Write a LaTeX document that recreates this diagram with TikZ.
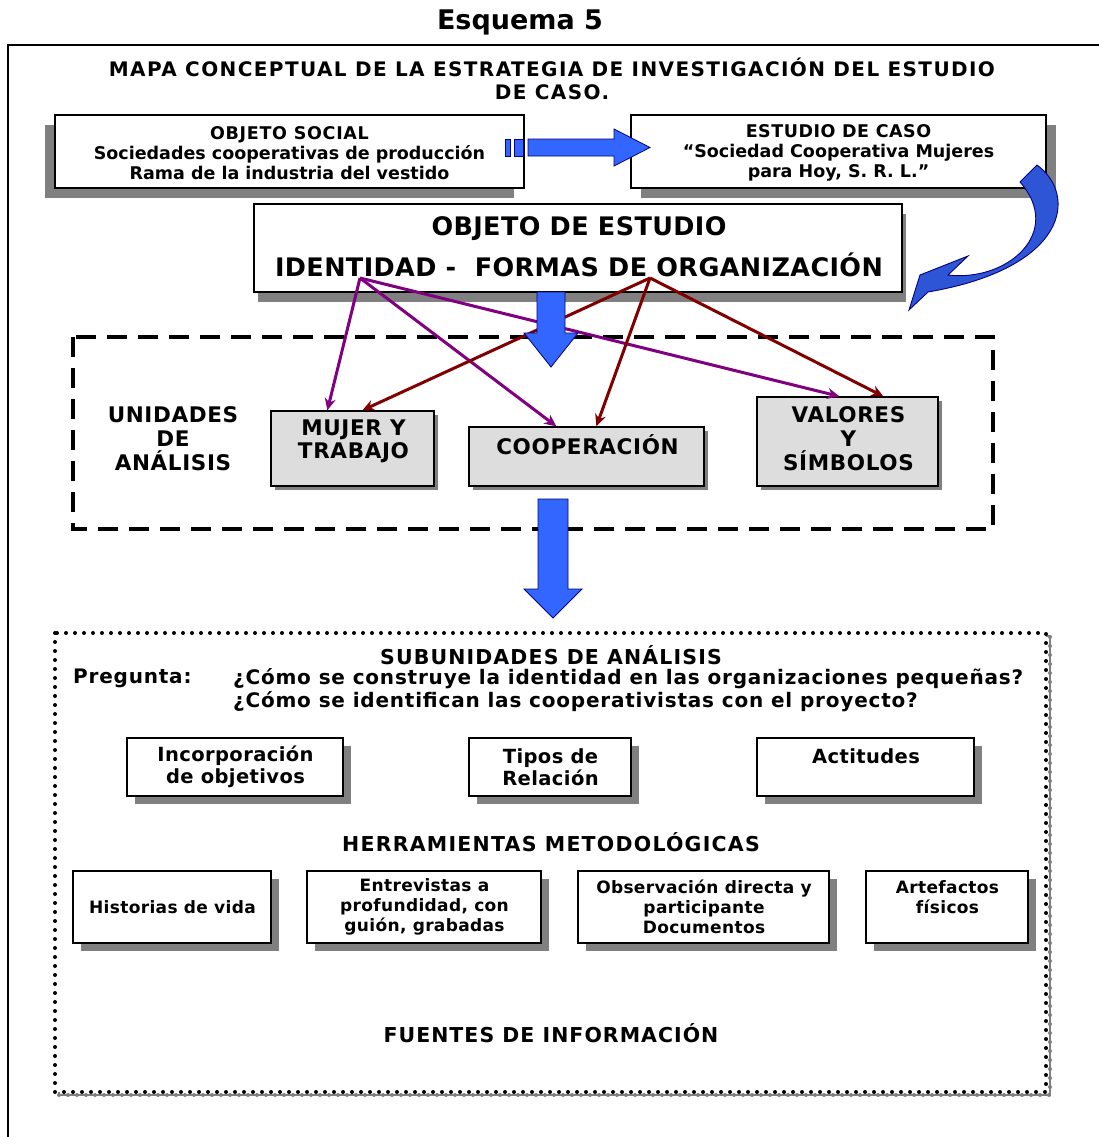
\documentclass[tikz,border=0pt]{standalone}
\usepackage{fontspec}
\setmainfont{DejaVu Sans}
\usetikzlibrary{calc,arrows.meta,shadows}

\definecolor{arrowblue}{HTML}{3366FF}
\definecolor{arrownavy}{HTML}{000080}
\definecolor{curveblue}{HTML}{2E55D6}
\definecolor{shadegrey}{HTML}{808080}
\definecolor{unitgrey}{HTML}{DDDDDD}
\definecolor{linkpurple}{HTML}{800080}
\definecolor{linkred}{HTML}{800000}

% size, baseline skip, letter spacing
\newcommand{\fsz}[3]{\fontsize{#1}{#2}\selectfont\bfseries\addfontfeature{LetterSpace=#3}}

\tikzset{
  box/.style={draw=black, line width=1.3pt, fill=white, inner sep=0pt},
  unitbox/.style={box, fill=unitgrey,
    drop shadow={shadow xshift=4pt, shadow yshift=-4pt, fill=shadegrey, opacity=1}},
  subbox/.style={box,
    drop shadow={shadow xshift=8pt, shadow yshift=-8pt, fill=shadegrey, opacity=1}},
  txt/.style={inner sep=0pt, align=center},
  blockarrow/.style={fill=arrowblue, draw=arrownavy, line width=0.8pt},
  purplelink/.style={draw=linkpurple, line width=3pt, -{Stealth[length=12pt,width=11pt]}},
  redlink/.style={draw=linkred, line width=3pt, -{Stealth[length=12pt,width=11pt]}},
  dotframe/.style={line width=4pt, line cap=round, dash pattern=on 0pt off 9pt},
}

\begin{document}
\begin{tikzpicture}[x=1pt, y=-1pt]
\useasboundingbox (0,0) rectangle (1099,1137);

% title and outer frame
\node[txt, font=\fsz{27}{32}{0}] (title) at (520,22) {Esquema 5};
\draw[line width=2pt] (1099,45) -- (8,45) -- (8,1137);

\node[txt, font=\fsz{20}{23}{7}] (heading) at (552,79)
  {MAPA CONCEPTUAL DE LA ESTRATEGIA DE INVESTIGACIÓN DEL ESTUDIO\\DE CASO.};

% upper boxes
\node[box, minimum width=469pt, minimum height=73pt,
  drop shadow={shadow xshift=-10pt, shadow yshift=-10pt, fill=shadegrey, opacity=1}]
  (osocial) at (289.5,151.5) {};
\node[txt, font=\fsz{17.5}{20}{0}] (osocialt) at (289.5,153)
  {{\addfontfeature{LetterSpace=4}OBJETO SOCIAL}\\Sociedades cooperativas de producción\\Rama de la industria del vestido};

\node[box, minimum width=415pt, minimum height=73pt,
  drop shadow={shadow xshift=10pt, shadow yshift=-10pt, fill=shadegrey, opacity=1}]
  (ecaso) at (838.5,151.5) {};
\node[txt, font=\fsz{17.5}{20}{0}] (ecasot) at (838.5,153)
  {{\addfontfeature{LetterSpace=3}ESTUDIO DE CASO}\\“Sociedad Cooperativa Mujeres\\para Hoy, S. R. L.”};

\node[box, minimum width=648pt, minimum height=88pt,
  drop shadow={shadow xshift=4pt, shadow yshift=-10pt, fill=shadegrey, opacity=1}]
  (oestudio) at (578,248) {};
\node[txt, font=\fsz{25.5}{41}{1.5}] (oestudiot) at (579,247)
  {OBJETO DE ESTUDIO\\IDENTIDAD -\ \ FORMAS DE ORGANIZACIÓN};

% horizontal block arrow
\path[blockarrow] (505,139) rectangle (510,156);
\path[blockarrow] (514,139) rectangle (523,156);
\path[blockarrow] (528,139) -- (614,139) -- (614,129) -- (650,147.5)
  -- (614,166) -- (614,156) -- (528,156) -- cycle;

% curved block arrow
\path[fill=curveblue, draw=arrownavy, line width=0.9pt]
  (1037,165) .. controls (1078,195) and (1068,268) .. (928,292)
  -- (909,310) -- (920,275) -- (968,256) -- (948,275)
  .. controls (1008,282) and (1064,232) .. (1020,182) -- cycle;

% units of analysis
\draw[line width=4pt, dash pattern=on 20pt off 11pt] (73,337) rectangle (993,529);

\node[txt, font=\fsz{21.5}{24}{3}] (unidades) at (173,439) {UNIDADES\\DE\\ANÁLISIS};

\node[unitbox, minimum width=163pt, minimum height=75pt] (mujer) at (352.5,448.5) {};
\node[txt, font=\fsz{21.5}{23}{3}] (mujert) at (353.5,441.5) {MUJER Y\\TRABAJO};

\node[unitbox, minimum width=235pt, minimum height=59pt] (coop) at (586.5,456.5) {};
\node[txt, font=\fsz{21.5}{23}{3}] (coopt) at (587.5,445) {COOPERACIÓN};

\node[unitbox, minimum width=181pt, minimum height=89pt] (valores) at (847.5,441.5) {};
\node[txt, font=\fsz{21.5}{24}{3}] (valorest) at (848.5,439) {VALORES\\Y\\SÍMBOLOS};

% links from the object of study
\coordinate (ident) at (360,278);
\coordinate (formas) at (650,278);
\draw[purplelink] (ident) -- ($(mujer.north west)+(57,0)$);
\draw[purplelink] (ident) -- ($(coop.north west)+(88,0)$);
\draw[purplelink] (ident) -- ($(valores.north west)+(83,0)$);
\draw[redlink] (formas) -- ($(mujer.north west)+(92,0)$);
\draw[redlink] (formas) -- ($(coop.north west)+(128,0)$);
\draw[redlink] (formas) -- ($(valores.north west)+(127,0)$);

% vertical block arrows
\path[blockarrow] (537,292) -- (565,292) -- (565,333) -- (578,333) -- (551,367)
  -- (524,333) -- (537,333) -- cycle;
\path[blockarrow] (538,499) -- (568,499) -- (568,589) -- (582,589) -- (553,618)
  -- (524,589) -- (538,589) -- cycle;

% sub-units frame: grey shadow, white ground, black dots
\draw[shadegrey, line width=1.5pt] (59,636) rectangle (1050,1095);
\draw[dotframe, shadegrey] (59,636) rectangle (1050,1095);
\fill[white] (55,633) rectangle (1046,1092);
\draw[dotframe, black] (55,633) rectangle (1046,1092);

\node[txt, font=\fsz{20.5}{23}{5.5}] (subunid) at (551,655) {SUBUNIDADES DE ANÁLISIS};
\node[txt, anchor=west, font=\fsz{20}{23}{4}] (pregunta) at (73,678) {Pregunta:};
\node[txt, anchor=north west, align=left, font=\fsz{20}{23}{4}] (preguntas) at (233,668)
  {¿Cómo se construye la identidad en las organizaciones pequeñas?\\
   ¿Cómo se identifican las cooperativistas con el proyecto?};

\node[subbox, minimum width=216pt, minimum height=58pt] (incorp) at (235,767) {};
\node[txt, font=\fsz{19.5}{22}{2}] (incorpt) at (235.5,767) {Incorporación\\de objetivos};
\node[subbox, minimum width=162pt, minimum height=58pt] (tipos) at (550,767) {};
\node[txt, font=\fsz{19.5}{22}{2}] (tipost) at (550.5,767) {Tipos de\\Relación};
\node[subbox, minimum width=217pt, minimum height=58pt] (actit) at (865.5,767) {};
\node[txt, font=\fsz{19.5}{22}{2}] (actitt) at (866,756) {Actitudes};

\node[txt, font=\fsz{20.5}{23}{6}] (herram) at (551,842) {HERRAMIENTAS METODOLÓGICAS};

\node[subbox, minimum width=198pt, minimum height=72pt] (hist) at (172,907) {};
\node[txt, font=\fsz{17}{20}{2}] (histt) at (172.5,907) {Historias de vida};
\node[subbox, minimum width=234pt, minimum height=72pt] (entrev) at (424,907) {};
\node[txt, font=\fsz{17}{20}{2}] (entrevt) at (424.5,907)
  {Entrevistas a\\profundidad, con\\guión, grabadas};
\node[subbox, minimum width=251pt, minimum height=72pt] (observ) at (703.5,907) {};
\node[txt, font=\fsz{17}{20}{2}] (observt) at (704,907)
  {Observación directa y\\participante\\Documentos};
\node[subbox, minimum width=162pt, minimum height=72pt] (artef) at (947,907) {};
\node[txt, font=\fsz{17}{20}{2}] (arteft) at (947.5,897) {Artefactos\\físicos};

\node[txt, font=\fsz{20.5}{23}{5}] (fuentes) at (551,1033) {FUENTES DE INFORMACIÓN};
\end{tikzpicture}
\end{document}
